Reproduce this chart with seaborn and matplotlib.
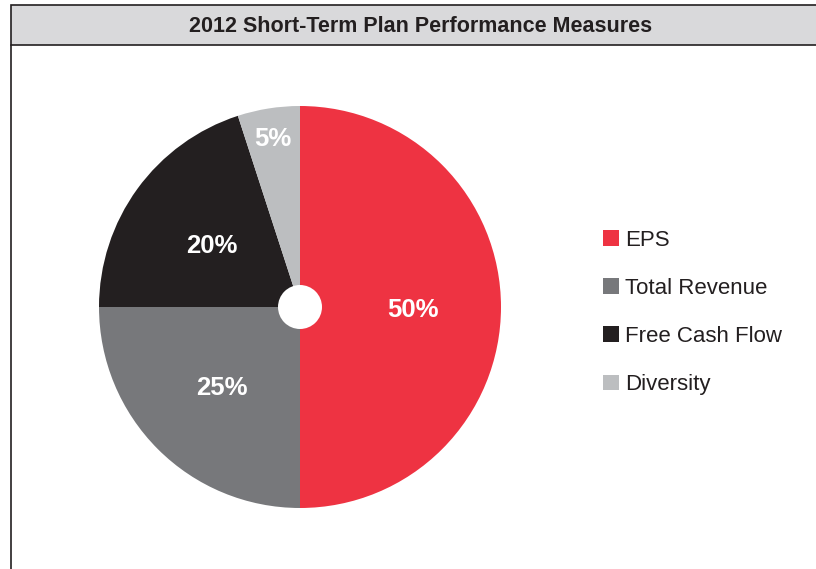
import numpy as np
import matplotlib.pyplot as plt
import seaborn as sns
from matplotlib.patches import Rectangle, Circle
from matplotlib.lines import Line2D

# data
labels = ["EPS", "Total Revenue", "Free Cash Flow", "Diversity"]
shares = [50, 25, 20, 5]
colors = ["#ee3342", "#77787b", "#231f20", "#bcbec0"]
title = "2012 Short-Term Plan Performance Measures"

sns.set_theme(style="white")
plt.rcParams["font.family"] = ["Liberation Sans", "DejaVu Sans"]

W, H = 816, 569
fig = plt.figure(figsize=(W / 100, H / 100), dpi=100)
fig.patch.set_facecolor("white")

# header bar + frame
def fx(px):
    return px / W

def fy(py):
    return 1 - py / H

fig.add_artist(Rectangle((fx(11), fy(45)), fx(W) - fx(11) + 0.01, fy(5) - fy(45),
                         facecolor="#d9d9db", edgecolor="#231f20", linewidth=1.2,
                         transform=fig.transFigure))
fig.add_artist(Line2D([fx(11), fx(11)], [fy(45), -0.01], color="#231f20",
                      linewidth=1.2, transform=fig.transFigure))
fig.text(fx(421), fy(27), title, ha="center", va="center", fontsize=15.5,
         fontweight="bold", color="#231f20")

# pie
cx, cy, r = 300, 307, 201
ax = fig.add_axes([fx(cx - r), fy(cy + r), fx(2 * r), fy(cy - r) - fy(cy + r)])
wedges, _ = ax.pie(shares, colors=colors, startangle=90, counterclock=False,
                   radius=1, wedgeprops=dict(linewidth=0))
ax.set_xlim(-1, 1)
ax.set_ylim(-1, 1)
ax.set_aspect("equal")
ax.axis("off")
ax.add_patch(Circle((0, 0), 22 / r, facecolor="white", edgecolor="none", zorder=5))

dists = [0.56, 0.55, 0.54, 0.86]
for w, s, d in zip(wedges, shares, dists):
    ang = np.deg2rad((w.theta1 + w.theta2) / 2)
    ax.text(d * np.cos(ang), d * np.sin(ang) - 3 / r, f"{s}%", ha="center",
            va="center", color="white", fontsize=18.5, fontweight="bold", zorder=6)

# legend
handles = [Rectangle((0, 0), 1, 1, facecolor=c, edgecolor="none") for c in colors]
fig.legend(handles, labels, loc="upper left", bbox_to_anchor=(fx(594), fy(221)),
           frameon=False, fontsize=16, handlelength=0.72, handleheight=0.72,
           handletextpad=0.28, labelspacing=1.22, labelcolor="#231f20",
           borderaxespad=0)

fig.savefig("out.png", dpi=100, facecolor="white")
